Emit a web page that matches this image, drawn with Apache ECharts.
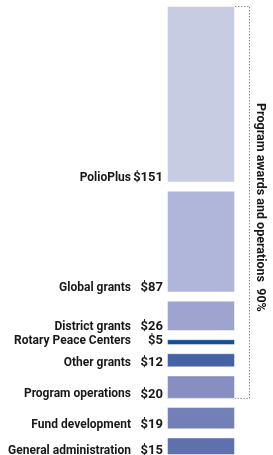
<!DOCTYPE html>
<html>
<head>
<meta charset="utf-8">
<script src="https://cdn.jsdelivr.net/npm/echarts@6/dist/echarts.min.js"></script>
<style>
  html, body { margin: 0; padding: 0; background: #fff; }
  #chart { width: 273px; height: 455px; }
</style>
</head>
<body>
<div id="chart"></div>
<script>
// spending categories, top to bottom (US$ millions)
const names = ['PolioPlus', 'Global grants', 'District grants', 'Rotary Peace Centers',
  'Other grants', 'Program operations', 'Fund development', 'General administration'];
const amounts = [151, 87, 26, 5, 12, 20, 19, 15];
const colors = ['#c8cce3', '#b0b6d9', '#9ea3cf', '#174e93', '#4563a4', '#868fc0', '#7280b7', '#5e70ad'];
const bracketText = 'Program awards and operations  90%';
const bracketLastIdx = 5; // bracket covers PolioPlus .. Program operations
const gap = 7;

const GRID = { left: 167, right: 38, top: 6, bottom: -2 };
const barRight = 273 - GRID.right;
const font = 'Roboto';

const chart = echarts.init(document.getElementById('chart'));

const series = [];
names.forEach((name, i) => {
  series.push({
    type: 'bar',
    stack: 'all',
    barWidth: '100%',
    silent: true,
    data: [amounts[i]],
    itemStyle: { color: colors[i], borderColor: 'rgba(255,255,255,0.45)', borderWidth: 1 },
    label: {
      show: true,
      position: [-4, '100%'],
      align: 'right',
      verticalAlign: 'bottom',
      offset: [0, 2],
      formatter: '{n|' + name + '}{v|$' + amounts[i] + '}',
      rich: {
        n: { fontFamily: font, fontWeight: 'bold', fontSize: 12, color: '#1a1718' },
        v: { fontFamily: font, fontWeight: 'bold', fontSize: 13, color: '#1a1718', width: 32, align: 'right' }
      }
    }
  });
  if (i < names.length - 1) {
    series.push({
      type: 'bar',
      stack: 'all',
      silent: true,
      data: [gap],
      itemStyle: { color: 'transparent' }
    });
  }
});

const total = amounts.reduce((a, b) => a + b, 0) + gap * (names.length - 1);

chart.setOption({
  animation: false,
  grid: GRID,
  xAxis: { type: 'category', data: [''], show: false },
  yAxis: { type: 'value', inverse: true, min: 0, max: total, show: false },
  series: series
});

// dashed bracket on the right
const cum = amounts.slice(0, bracketLastIdx + 1).reduce((a, b) => a + b, 0) + gap * bracketLastIdx;
const yTop = chart.convertToPixel({ yAxisIndex: 0 }, 0);
const yBot = chart.convertToPixel({ yAxisIndex: 0 }, cum);
const xB = barRight + 14;

chart.setOption({
  graphic: [
    {
      type: 'polyline',
      silent: true,
      shape: { points: [[barRight, yTop + 0.5], [xB + 0.5, yTop + 0.5], [xB + 0.5, yBot - 0.5], [barRight, yBot - 0.5]] },
      style: { stroke: '#8c8c8c', lineWidth: 1, lineDash: [1.5, 1.5], fill: null }
    },
    {
      type: 'text',
      silent: true,
      x: xB + 11,
      y: (yTop + yBot) / 2 + 5,
      rotation: -Math.PI / 2,
      style: {
        text: bracketText,
        font: 'bold 12.5px ' + font,
        fill: '#1a1718',
        align: 'center',
        verticalAlign: 'middle'
      }
    }
  ]
});
</script>
</body>
</html>
